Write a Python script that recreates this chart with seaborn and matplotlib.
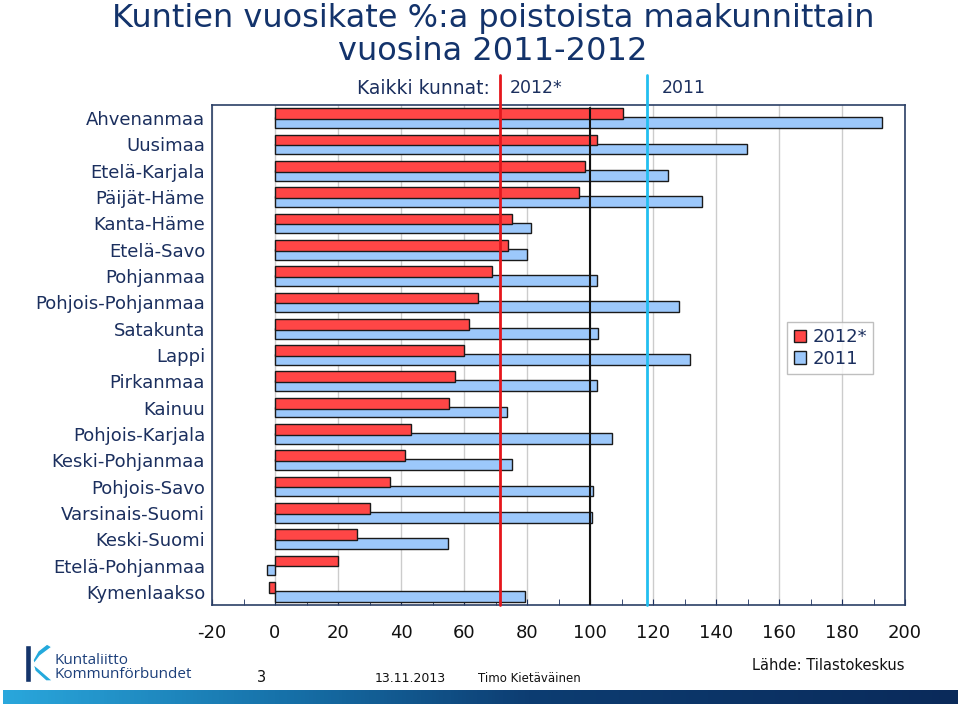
import numpy as np
import pandas as pd
import matplotlib.pyplot as plt
import matplotlib.colors as mcolors
from matplotlib.patches import Polygon, Rectangle
import seaborn as sns

# Data
regions = ['Ahvenanmaa', 'Uusimaa', 'Etelä-Karjala', 'Päijät-Häme', 'Kanta-Häme',
           'Etelä-Savo', 'Pohjanmaa', 'Pohjois-Pohjanmaa', 'Satakunta', 'Lappi',
           'Pirkanmaa', 'Kainuu', 'Pohjois-Karjala', 'Keski-Pohjanmaa', 'Pohjois-Savo',
           'Varsinais-Suomi', 'Keski-Suomi', 'Etelä-Pohjanmaa', 'Kymenlaakso']
vals_2012 = [110.4, 102.1, 98.3, 96.6, 75.3, 73.9, 68.9, 64.6, 61.6, 60.1,
             57.0, 55.1, 43.3, 41.2, 36.5, 30.1, 26.0, 19.9, -1.8]
vals_2011 = [192.8, 149.9, 124.9, 135.7, 81.3, 80.1, 102.3, 128.3, 102.6, 131.8,
             102.3, 73.7, 107.1, 75.1, 101.1, 100.6, 55.0, -2.4, 79.3]
all_2012 = 71.4
all_2011 = 118.0
years = ['2012*', '2011']
xticks = list(range(-20, 201, 20))

navy = '#1b2f5e'
red = '#ff4646'
blue = '#9cc8fb'
df = pd.DataFrame({
    'region': regions * 2,
    'year': [years[0]] * len(regions) + [years[1]] * len(regions),
    'value': vals_2012 + vals_2011,
})

sns.set_style('white')
plt.rcParams['font.family'] = ['DejaVu Sans']
plt.rcParams['axes.unicode_minus'] = False

fig = plt.figure(figsize=(9.6, 7.06), dpi=100)
W, H = 960, 706
ax = fig.add_axes([212 / W, 1 - 605 / H, 693 / W, 500 / H])

sns.barplot(data=df, y='region', x='value', hue='year', hue_order=years,
            order=regions, orient='h', palette=[red, blue], saturation=1,
            width=0.68, gap=-0.2, edgecolor='#1a1a1a', linewidth=1.0,
            ax=ax, legend=False, zorder=3)

# red bars drawn above the blue ones
for p in ax.containers[0]:
    p.set_zorder(4)

ax.set_xlim(-20, 200)
ax.set_ylim(len(regions) - 0.5, -0.5)
ax.set_xticks(xticks)
ax.set_xticks(range(-10, 200, 20), minor=True)
ax.xaxis.grid(True, color='#cccccc', linewidth=1, zorder=0)
ax.set_axisbelow(True)
ax.tick_params(axis='x', which='both', direction='in', length=4, color=navy,
               labelsize=13, labelcolor='#111111', pad=14, bottom=True)
ax.tick_params(axis='y', length=0, labelsize=13, labelcolor=navy, pad=5)
ax.set_xlabel('')
ax.set_ylabel('')
for s in ax.spines.values():
    s.set_color('#2b3f66')
    s.set_linewidth(1.2)

# reference lines for all municipalities
ax.axvline(100, ymin=0, ymax=0.995, color='#111111', linewidth=1.5, zorder=5)
ax.axvline(all_2012, ymin=0, ymax=1.06, color='#e5161c', linewidth=2, zorder=6, clip_on=False)
ax.axvline(all_2011, ymin=0, ymax=1.06, color='#22bff0', linewidth=2, zorder=6, clip_on=False)

handles = [Rectangle((0, 0), 1, 1, facecolor=red, edgecolor='#1a1a1a'),
           Rectangle((0, 0), 1, 1, facecolor=blue, edgecolor='#1a1a1a')]
leg = ax.legend(handles, years, loc='upper left', bbox_to_anchor=(0.83, 0.566),
                frameon=True, fancybox=False, fontsize=13, handlelength=0.7,
                handleheight=0.7, handletextpad=0.35, borderpad=0.35, labelspacing=0.2,
                borderaxespad=0, labelcolor=navy)
leg.get_frame().set_edgecolor('#b0b0b0')
leg.get_frame().set_linewidth(1)

# titles
fig.text(493 / W, 1 - 19 / H, 'Kuntien vuosikate %:a poistoista maakunnittain',
         ha='center', va='center', fontsize=23, color='#13336b')
fig.text(493 / W, 1 - 52 / H, 'vuosina 2011-2012',
         ha='center', va='center', fontsize=23, color='#13336b')
fig.text(490 / W, 1 - 88 / H, 'Kaikki kunnat:', ha='right', va='center', fontsize=13.5, color=navy)
fig.text(510 / W, 1 - 88 / H, '2012*', ha='left', va='center', fontsize=12.5, color=navy)
fig.text(662 / W, 1 - 88 / H, '2011', ha='left', va='center', fontsize=12.5, color=navy)

# footer
fig.text(752 / W, 1 - 665 / H, 'Lähde: Tilastokeskus', ha='left', va='center',
         fontsize=10.5, color='#111111')
fig.text(262 / W, 1 - 678 / H, '3', ha='center', va='center', fontsize=10.5, color='#111111')
fig.text(375 / W, 1 - 679 / H, '13.11.2013', ha='left', va='center', fontsize=9, color='#111111')
fig.text(478 / W, 1 - 679 / H, 'Timo Kietäväinen', ha='left', va='center', fontsize=8.5, color='#111111')

# logo
def px(x, y):
    return (x / W, 1 - y / H)

fig.patches.append(Polygon([px(25, 645), px(31, 645), px(31, 682), px(25, 682)],
                           closed=True, transform=fig.transFigure, facecolor='#14346b'))
fig.patches.append(Polygon([px(47, 644), px(52, 647), px(40, 656), px(34, 664), px(33, 660), px(38, 651)],
                           closed=True, transform=fig.transFigure, facecolor='#24a9dc'))
fig.patches.append(Polygon([px(33, 664), px(38, 668), px(53, 681), px(46, 681), px(35, 671)],
                           closed=True, transform=fig.transFigure, facecolor='#24a9dc'))
fig.text(55 / W, 1 - 660 / H, 'Kuntaliitto', ha='left', va='center', fontsize=11,
         color='#1c3f7a', family=['Open Sans', 'DejaVu Sans'])
fig.text(55 / W, 1 - 675 / H, 'Kommunförbundet', ha='left', va='center', fontsize=11,
         color='#1c3f7a', family=['Open Sans', 'DejaVu Sans'])

# gradient band at bottom
band = fig.add_axes([3 / W, 1 - 704 / H, 954 / W, 14 / H])
cmap = mcolors.LinearSegmentedColormap.from_list(
    'band', [(0, '#2aa7dc'), (0.3, '#1670a8'), (0.55, '#0d3d72'), (1, '#0a2a5a')])
band.imshow(np.linspace(0, 1, 256)[None, :], aspect='auto', cmap=cmap)
band.axis('off')

fig.savefig('out.png', dpi=100)
